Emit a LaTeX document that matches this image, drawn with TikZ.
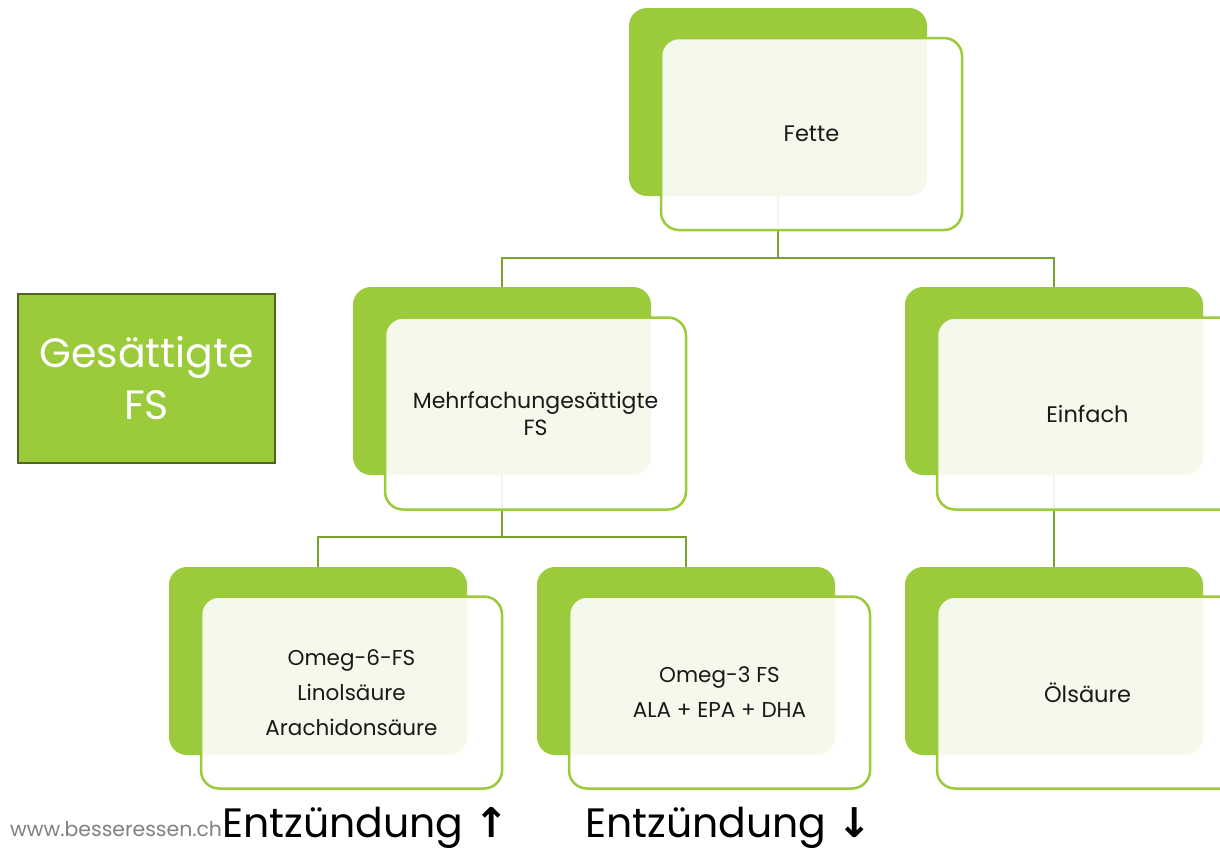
\documentclass[tikz,border=0pt]{standalone}
\usepackage{fontspec}
\setmainfont{Poppins}
\newfontfamily\arrowfont{DejaVu Sans}
\definecolor{lgreen}{RGB}{155,203,59}
\definecolor{cgreen}{RGB}{122,163,44}
\definecolor{dgreen}{RGB}{79,98,40}
\definecolor{txt}{RGB}{25,25,25}
\tikzset{
  backbox/.style={fill=lgreen, draw=none, rounded corners=18pt, minimum width=298pt, minimum height=188pt, inner sep=0pt},
  frontbox/.style={fill=white, fill opacity=0.9, text opacity=1, draw=lgreen, line width=2.5pt, rounded corners=18pt,
     minimum width=301pt, minimum height=192pt, inner sep=0pt, align=center, text=txt, font=\fontsize{22.5}{27}\selectfont},
  conn/.style={draw=cgreen, line width=2.5pt},
  sat/.style={fill=lgreen, draw=dgreen, line width=2.5pt, minimum width=257pt, minimum height=169pt, inner sep=0pt,
     align=center, text=white, font=\fontsize{41}{52}\selectfont},
  bottomlbl/.style={anchor=base west, inner sep=0pt, text=black, font=\fontsize{41}{41}\selectfont},
  weblbl/.style={anchor=base west, inner sep=0pt, text=gray, font=\fontsize{20.4}{20}\selectfont}
}
\begin{document}
\begin{tikzpicture}[x=1pt,y=-1pt]
\useasboundingbox (0,0) rectangle (1220,849);
\clip (0,0) rectangle (1220,849);
% back boxes
\node[backbox] (fb) at (778,102) {};
\node[backbox] (mb) at (502,381) {};
\node[backbox] (eb) at (1054,381) {};
\node[backbox] (o6b) at (318,661) {};
\node[backbox] (o3b) at (686,661) {};
\node[backbox] (olb) at (1054,661) {};
% connectors
\coordinate (j1) at (778,258);
\coordinate (j2) at (502,537);
\draw[conn] (fb.south) -- (j1) -| (mb.north);
\draw[conn] (j1) -| (eb.north);
\draw[conn] (mb.south) -- (j2) -| (o6b.north);
\draw[conn] (j2) -| (o3b.north);
\draw[conn] (eb.south) -- (olb.north);
% front boxes
\node[frontbox] (f) at (811.5,134) {Fette};
\node[frontbox, font=\fontsize{22}{27}\selectfont] (m) at (535.5,413.5) {Mehrfachungesättigte\\FS};
\node[frontbox] (e) at (1087.5,413.5) {Einfach};
\node[frontbox, font=\fontsize{21.5}{35}\selectfont] (o6) at (351.5,692.5) {Omeg-6-FS\\Linolsäure\\Arachidonsäure};
\node[frontbox, font=\fontsize{21.5}{35}\selectfont] (o3) at (719.5,692.5) {Omeg-3 FS\\ALA + EPA + DHA};
\node[frontbox] (ol) at (1087.5,692.5) {Ölsäure};
% saturated
\node[sat] (s) at (146.5,378.5) {Gesättigte\\FS};
% bottom labels
\node[weblbl] (w) at (10,836) {www.besseressen.ch};
\node[bottomlbl] (up) at (222,837) {Entzündung {\arrowfont\bfseries ↑}};
\node[bottomlbl] (dn) at (585,837) {Entzündung {\arrowfont\bfseries ↓}};
\end{tikzpicture}
\end{document}
